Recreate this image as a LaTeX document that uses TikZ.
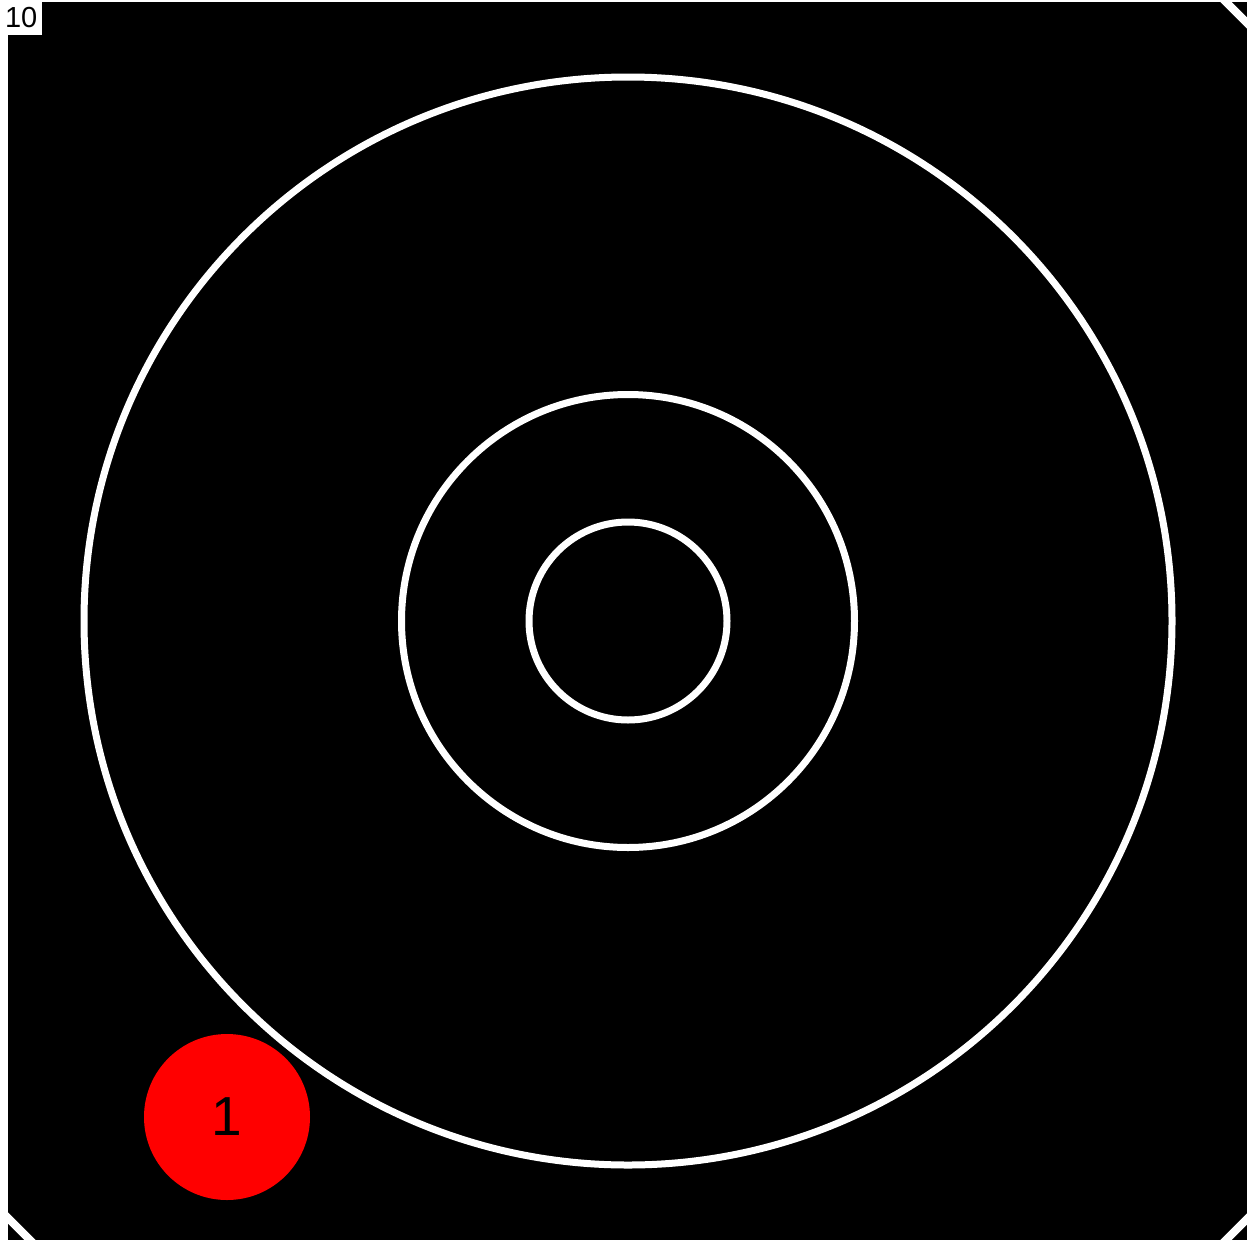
\documentclass[tikz,border=0pt]{standalone}
\usepackage{fontspec}
\newfontfamily\lsans{Liberation Sans}
\begin{document}
\begin{tikzpicture}[x=1pt,y=-1pt,
  ring/.style={draw=white,line width=7pt},
  cornerline/.style={draw=white,line width=8pt},
  marker/.style={circle,fill=red,minimum size=166pt,inner sep=0pt,font=\lsans\fontsize{55}{55}\selectfont,text=black},
  tag/.style={fill=white,inner sep=0pt,minimum width=42pt,minimum height=35pt,font=\lsans\fontsize{29}{29}\selectfont,anchor=north west}]
\useasboundingbox (0,0) rectangle (1255,1242);
\fill[white] (0,0) rectangle (1255,1242);
\fill[black] (8,2) rectangle (1247,1240);
\begin{scope}
\clip (8,2) rectangle (1247,1240);
\draw[cornerline] (1220,-4) -- (1253,29);
\draw[cornerline] (2,1212) -- (36,1246);
\draw[cornerline] (1253,1213) -- (1220,1246);
\end{scope}
\node[ring,circle,minimum size=1088pt,inner sep=0pt] (outer) at (628,621) {};
\node[ring,circle,minimum size=453pt,inner sep=0pt] (middle) at (628,621) {};
\node[ring,circle,minimum size=198pt,inner sep=0pt] (inner) at (628,621) {};
\node[marker] (m1) at (227,1117) {1};
\node[tag] (t10) at (0,0) {10};
\end{tikzpicture}
\end{document}
